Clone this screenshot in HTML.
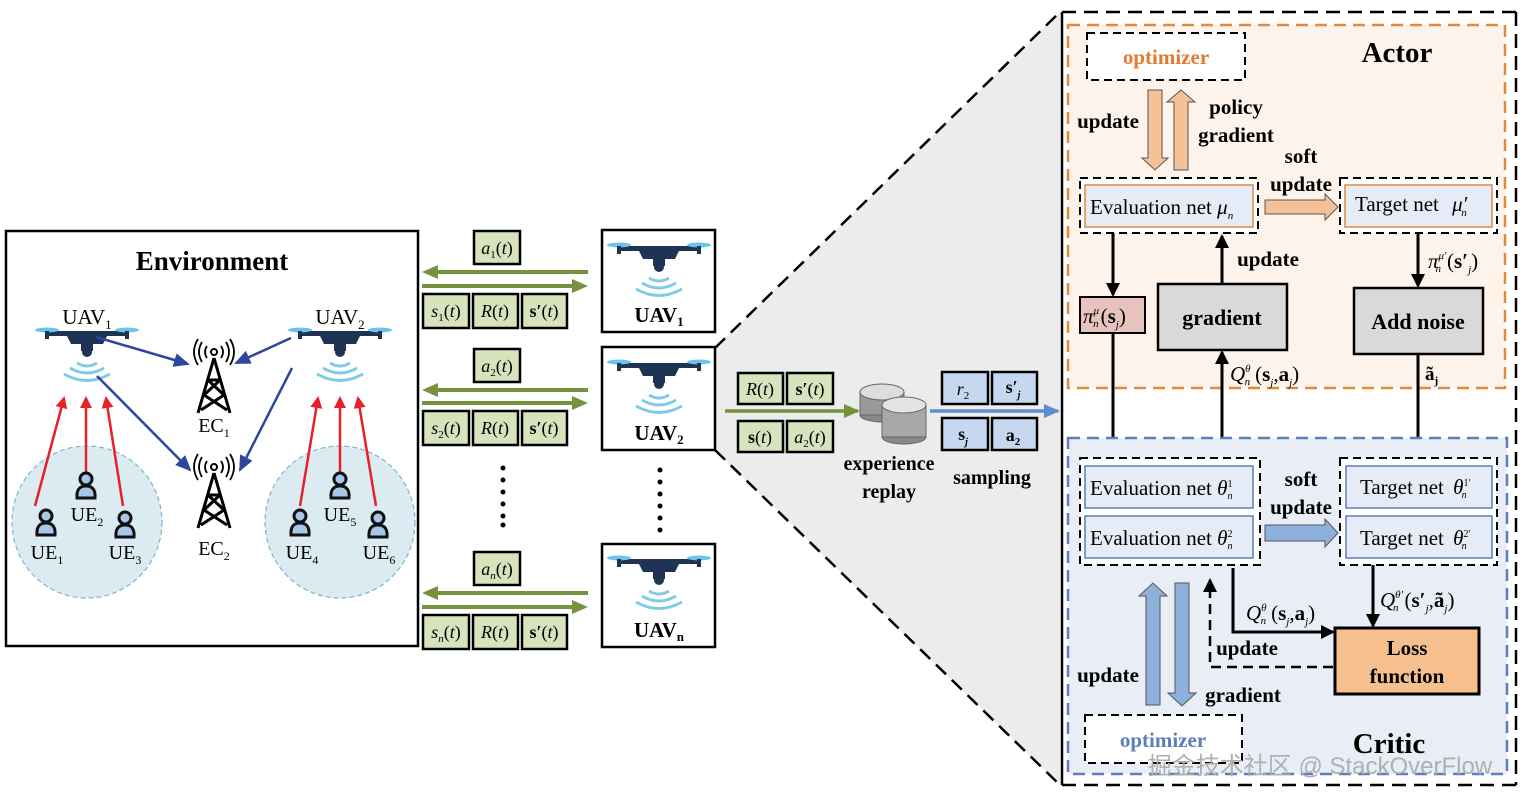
<!DOCTYPE html>
<html><head><meta charset="utf-8"><style>
html,body{margin:0;padding:0;background:#fff;}
svg{display:block;}
text{font-family:"Liberation Serif","Noto Serif CJK SC",serif;}
.b{font-weight:bold;}
.i{font-style:italic;}
</style></head><body>
<svg width="1524" height="801" viewBox="0 0 1524 801" xmlns="http://www.w3.org/2000/svg">
<defs>
<marker id="ahb" markerWidth="14" markerHeight="14" refX="12" refY="7" orient="auto" markerUnits="userSpaceOnUse"><path d="M0,0 L14,7 L0,14 z" fill="#000"/></marker>
<marker id="ahr" markerWidth="12" markerHeight="12" refX="10" refY="6" orient="auto" markerUnits="userSpaceOnUse"><path d="M0,0 L12,6 L0,12 z" fill="#e8202a"/></marker>
<marker id="ahn" markerWidth="16" markerHeight="14" refX="14" refY="7" orient="auto" markerUnits="userSpaceOnUse"><path d="M0,0 L16,7 L0,14 z" fill="#2e46a0"/></marker>
<marker id="ahg" markerWidth="16" markerHeight="14" refX="14" refY="7" orient="auto" markerUnits="userSpaceOnUse"><path d="M0,0 L16,7 L0,14 z" fill="#76923c"/></marker>
<marker id="ahbl" markerWidth="16" markerHeight="14" refX="14" refY="7" orient="auto" markerUnits="userSpaceOnUse"><path d="M0,0 L16,7 L0,14 z" fill="#5b8fd0"/></marker>
<g id="drone">
<rect x="-38" y="-4" width="76" height="5" fill="#1f3354"/>
<ellipse cx="-40" cy="-5" rx="12" ry="2.5" fill="#6cc4e8"/>
<ellipse cx="40" cy="-5" rx="12" ry="2.5" fill="#6cc4e8"/>
<rect x="-42" y="-4" width="4" height="8" fill="#1f3354"/>
<rect x="38" y="-4" width="4" height="8" fill="#1f3354"/>
<path d="M-22,-3 L22,-3 L16,9 L-16,9 z" fill="#1f3354"/>
<rect x="-6" y="8" width="12" height="8" fill="#1f3354"/>
<circle cx="0" cy="17" r="5" fill="#1f3354"/>
<path d="M-10,28 Q0,34 10,28 M-17,33 Q0,43 17,33 M-23,39 Q0,52 23,39" fill="none" stroke="#7fcbe6" stroke-width="3"/>
</g>
<g id="ue">
<circle cx="0" cy="-9" r="6" fill="#a8c6e8" stroke="#111" stroke-width="3"/>
<path d="M-9,10 Q-10,-2 0,-2 Q10,-2 9,10 z" fill="#a8c6e8" stroke="#111" stroke-width="3"/>
</g>
<g id="tower" fill="none" stroke="#000" stroke-width="3">
<path d="M0,-22 L-16,33 M0,-22 L16,33 M-6,0 L6,0 M-6,0 L10,15 M6,0 L-10,15 M-10,15 L13,30 M10,15 L-13,30"/>
<circle cx="0" cy="-28" r="3" stroke-width="2"/>
<path d="M-7,-34 Q-11,-28 -7,-22 M7,-34 Q11,-28 7,-22 M-12,-38 Q-18,-28 -12,-18 M12,-38 Q18,-28 12,-18 M-16,-41 Q-24,-28 -16,-15 M16,-41 Q24,-28 16,-15" stroke-width="1.8"/>
</g>
</defs>

<polygon points="715,348 1060,12 1060,785 715,450" fill="#ececec"/>
<line x1="715" y1="348" x2="1060" y2="12" stroke="#000" stroke-width="2.5" stroke-dasharray="14,8"/>
<line x1="715" y1="450" x2="1060" y2="785" stroke="#000" stroke-width="2.5" stroke-dasharray="14,8"/>

<rect x="1062" y="12" width="454" height="773" fill="#fff"/>
<line x1="1062" y1="12" x2="1062" y2="785" stroke="#000" stroke-width="2.5"/>
<line x1="1062" y1="12" x2="1516" y2="12" stroke="#000" stroke-width="2.5" stroke-dasharray="14,8"/>
<line x1="1516" y1="12" x2="1516" y2="785" stroke="#000" stroke-width="2.5" stroke-dasharray="14,8"/>
<line x1="1062" y1="785" x2="1516" y2="785" stroke="#000" stroke-width="2.5" stroke-dasharray="14,8"/>

<!-- Actor -->
<rect x="1068" y="25" width="437" height="363" fill="#fdf3ea" stroke="#e08a3c" stroke-width="2.5" stroke-dasharray="12,7"/>
<rect x="1087" y="33" width="158" height="47" fill="#fff" stroke="#000" stroke-width="2" stroke-dasharray="8,5"/>
<text x="1166" y="64" text-anchor="middle" font-size="21" class="b" fill="#e07b30">optimizer</text>
<text x="1397" y="62" text-anchor="middle" font-size="29" class="b">Actor</text>
<path d="M1148,90 L1162,90 L1162,158 L1168,158 L1155,170 L1142,158 L1148,158 z" fill="#f6c196" stroke="#555" stroke-width="1"/>
<path d="M1174,170 L1188,170 L1188,102 L1195,102 L1181,90 L1167,102 L1174,102 z" fill="#f6c196" stroke="#555" stroke-width="1"/>
<text x="1108" y="128" text-anchor="middle" font-size="21" class="b">update</text>
<text x="1236" y="114" text-anchor="middle" font-size="21" class="b">policy</text>
<text x="1236" y="142" text-anchor="middle" font-size="21" class="b">gradient</text>
<text x="1301" y="163" text-anchor="middle" font-size="21" class="b">soft</text>
<text x="1301" y="191" text-anchor="middle" font-size="21" class="b">update</text>
<rect x="1080" y="178" width="178" height="55" fill="#fff" stroke="#000" stroke-width="2" stroke-dasharray="8,5"/>
<rect x="1085" y="185" width="168" height="42" fill="#e5ecf7" stroke="#e08a3c" stroke-width="1.5"/>
<text x="1090" y="214" font-size="21">Evaluation net <tspan class="i">μ</tspan><tspan class="i" font-size="11" dy="5">n</tspan></text>
<path d="M1265,200 L1325,200 L1325,194 L1338,207 L1325,220 L1325,214 L1265,214 z" fill="#f6c196" stroke="#555" stroke-width="1"/>
<rect x="1340" y="178" width="157" height="55" fill="#fff" stroke="#000" stroke-width="2" stroke-dasharray="8,5"/>
<rect x="1345" y="185" width="147" height="42" fill="#e5ecf7" stroke="#e08a3c" stroke-width="1.5"/>
<text x="1355" y="211" font-size="21">Target net <tspan class="i" dx="8">μ′</tspan><tspan class="i" font-size="11" dy="5" dx="-6">n</tspan></text>
<line x1="1113" y1="233" x2="1113" y2="295" stroke="#000" stroke-width="3" marker-end="url(#ahb)"/>
<rect x="1080" y="297" width="65" height="36" fill="#e8c3bd" stroke="#000" stroke-width="2"/>
<text x="1083" y="323" font-size="21"><tspan class="i">π</tspan><tspan class="i" font-size="11" dy="-9">μ</tspan><tspan class="i" font-size="11" dy="13" dx="-6">n</tspan><tspan dy="-4" dx="2">(</tspan><tspan class="b">s</tspan><tspan class="i" font-size="11" dy="5">j</tspan><tspan dy="-5">)</tspan></text>
<rect x="1158" y="284" width="129" height="66" fill="#d9d9d9" stroke="#000" stroke-width="2.5"/>
<text x="1222" y="325" text-anchor="middle" font-size="22" class="b">gradient</text>
<line x1="1222" y1="284" x2="1222" y2="236" stroke="#000" stroke-width="3" marker-end="url(#ahb)"/>
<text x="1268" y="266" text-anchor="middle" font-size="21" class="b">update</text>
<rect x="1354" y="288" width="129" height="66" fill="#d9d9d9" stroke="#000" stroke-width="2.5"/>
<text x="1418" y="329" text-anchor="middle" font-size="22" class="b">Add noise</text>
<line x1="1418" y1="233" x2="1418" y2="286" stroke="#000" stroke-width="3" marker-end="url(#ahb)"/>
<text x="1428" y="268" font-size="21"><tspan class="i">π</tspan><tspan class="i" font-size="11" dy="-9">μ′</tspan><tspan class="i" font-size="11" dy="13" dx="-11">n</tspan><tspan dy="-4" dx="6">(</tspan><tspan class="b">s′</tspan><tspan class="i" font-size="11" dy="5">j</tspan><tspan dy="-5">)</tspan></text>
<line x1="1113" y1="333" x2="1113" y2="456" stroke="#000" stroke-width="3" marker-end="url(#ahb)"/>
<line x1="1222" y1="458" x2="1222" y2="352" stroke="#000" stroke-width="3" marker-end="url(#ahb)"/>
<text x="1230" y="381" font-size="21"><tspan class="i">Q</tspan><tspan class="i" font-size="11" dy="-9">θ</tspan><tspan class="i" font-size="11" dy="13" dx="-6">n</tspan><tspan dy="-4" dx="5">(</tspan><tspan class="b">s</tspan><tspan class="i" font-size="11" dy="5">j</tspan><tspan dy="-5">,</tspan><tspan class="b">a</tspan><tspan class="i" font-size="11" dy="5">j</tspan><tspan dy="-5">)</tspan></text>
<line x1="1418" y1="354" x2="1418" y2="456" stroke="#000" stroke-width="3" marker-end="url(#ahb)"/>
<text x="1425" y="380" font-size="19" class="b">ã<tspan font-size="11" dy="4">j</tspan></text>

<!-- Critic -->
<rect x="1068" y="438" width="439" height="336" fill="#e8edf6" stroke="#5b7fb8" stroke-width="2.5" stroke-dasharray="12,7"/>
<rect x="1080" y="458" width="180" height="107" fill="#fff" stroke="#000" stroke-width="2" stroke-dasharray="8,5"/>
<rect x="1085" y="466" width="168" height="42" fill="#e5ecf7" stroke="#5b7fb8" stroke-width="1.5"/>
<rect x="1085" y="516" width="168" height="42" fill="#e5ecf7" stroke="#5b7fb8" stroke-width="1.5"/>
<text x="1090" y="495" font-size="21">Evaluation net <tspan class="i">θ</tspan><tspan font-size="10" dy="-8">1</tspan><tspan class="i" font-size="10" dy="12" dx="-5">n</tspan></text>
<text x="1090" y="545" font-size="21">Evaluation net <tspan class="i">θ</tspan><tspan font-size="10" dy="-8">2</tspan><tspan class="i" font-size="10" dy="12" dx="-5">n</tspan></text>
<text x="1301" y="486" text-anchor="middle" font-size="21" class="b">soft</text>
<text x="1301" y="514" text-anchor="middle" font-size="21" class="b">update</text>
<path d="M1265,525 L1325,525 L1325,519 L1338,533 L1325,547 L1325,541 L1265,541 z" fill="#8eb0dc" stroke="#555" stroke-width="1"/>
<rect x="1340" y="458" width="157" height="107" fill="#fff" stroke="#000" stroke-width="2" stroke-dasharray="8,5"/>
<rect x="1346" y="466" width="146" height="42" fill="#e5ecf7" stroke="#5b7fb8" stroke-width="1.5"/>
<rect x="1346" y="516" width="146" height="42" fill="#e5ecf7" stroke="#5b7fb8" stroke-width="1.5"/>
<text x="1360" y="494" font-size="21">Target net <tspan class="i" dx="4">θ</tspan><tspan font-size="10" dy="-8">1′</tspan><tspan class="i" font-size="10" dy="12" dx="-9">n</tspan></text>
<text x="1360" y="545" font-size="21">Target net <tspan class="i" dx="4">θ</tspan><tspan font-size="10" dy="-8">2′</tspan><tspan class="i" font-size="10" dy="12" dx="-9">n</tspan></text>
<rect x="1335" y="628" width="144" height="66" fill="#f6c08e" stroke="#000" stroke-width="3"/>
<text x="1407" y="655" text-anchor="middle" font-size="21" class="b">Loss</text>
<text x="1407" y="683" text-anchor="middle" font-size="21" class="b">function</text>
<line x1="1373" y1="565" x2="1373" y2="626" stroke="#000" stroke-width="3" marker-end="url(#ahb)"/>
<text x="1380" y="607" font-size="21"><tspan class="i">Q</tspan><tspan class="i" font-size="11" dy="-9">θ′</tspan><tspan class="i" font-size="11" dy="13" dx="-10">n</tspan><tspan dy="-4" dx="6">(</tspan><tspan class="b">s′</tspan><tspan class="i" font-size="11" dy="5">j</tspan><tspan dy="-5">,</tspan><tspan class="b">ã</tspan><tspan class="i" font-size="11" dy="5">j</tspan><tspan dy="-5">)</tspan></text>
<path d="M1233,568 L1233,632 L1333,632" fill="none" stroke="#000" stroke-width="3" marker-end="url(#ahb)"/>
<text x="1246" y="620" font-size="21"><tspan class="i">Q</tspan><tspan class="i" font-size="11" dy="-9">θ</tspan><tspan class="i" font-size="11" dy="13" dx="-6">n</tspan><tspan dy="-4" dx="5">(</tspan><tspan class="b">s</tspan><tspan class="i" font-size="11" dy="5">j</tspan><tspan dy="-5">,</tspan><tspan class="b">a</tspan><tspan class="i" font-size="11" dy="5">j</tspan><tspan dy="-5">)</tspan></text>
<path d="M1333,667 L1210,667 L1210,580" fill="none" stroke="#000" stroke-width="2.5" stroke-dasharray="10,6" marker-end="url(#ahb)"/>
<text x="1247" y="655" text-anchor="middle" font-size="21" class="b">update</text>
<path d="M1146,705 L1160,705 L1160,596 L1167,596 L1153,583 L1139,596 L1146,596 z" fill="#8eb0dc" stroke="#555" stroke-width="1"/>
<path d="M1175,583 L1189,583 L1189,693 L1196,693 L1182,706 L1168,693 L1175,693 z" fill="#8eb0dc" stroke="#555" stroke-width="1"/>
<text x="1108" y="682" text-anchor="middle" font-size="21" class="b">update</text>
<text x="1243" y="702" text-anchor="middle" font-size="21" class="b">gradient</text>
<rect x="1085" y="715" width="157" height="48" fill="#fff" stroke="#000" stroke-width="2" stroke-dasharray="8,5"/>
<text x="1163" y="747" text-anchor="middle" font-size="21" class="b" fill="#5b7fb8">optimizer</text>
<text x="1389" y="753" text-anchor="middle" font-size="29" class="b">Critic</text>
<text x="1320" y="774" text-anchor="middle" font-size="24" fill="#b0b0b0" style="font-family:'Liberation Sans','Noto Sans CJK SC',sans-serif">掘金技术社区 @ StackOverFlow</text>

<!-- Middle replay -->
<g stroke="#000" stroke-width="2.5" fill="#d7e3bd">
<rect x="738" y="373" width="45" height="31"/><rect x="787" y="373" width="46" height="31"/>
<rect x="738" y="421" width="45" height="31"/><rect x="787" y="421" width="46" height="31"/>
</g>
<text x="760" y="395" text-anchor="middle" font-size="18"><tspan class="i">R</tspan>(<tspan class="i">t</tspan>)</text>
<text x="810" y="395" text-anchor="middle" font-size="18"><tspan class="b">s′</tspan>(<tspan class="i">t</tspan>)</text>
<text x="760" y="443" text-anchor="middle" font-size="18"><tspan class="b">s</tspan>(<tspan class="i">t</tspan>)</text>
<text x="810" y="443" text-anchor="middle" font-size="18"><tspan class="i">a</tspan><tspan font-size="11" dy="4">2</tspan><tspan dy="-4">(</tspan><tspan class="i">t</tspan>)</text>
<line x1="725" y1="411" x2="858" y2="411" stroke="#76923c" stroke-width="3.5" marker-end="url(#ahg)"/>
<g stroke="#666" stroke-width="1">
<ellipse cx="882" cy="415" rx="22" ry="7" fill="#888"/><rect x="860" y="392" width="44" height="23" fill="#9a9a9a"/><ellipse cx="882" cy="392" rx="22" ry="8" fill="#ddd"/>
<ellipse cx="904" cy="437" rx="22" ry="7" fill="#888"/><rect x="882" y="405" width="44" height="32" fill="#a8a8a8"/><ellipse cx="904" cy="405" rx="22" ry="8" fill="#e4e4e4"/>
</g>
<text x="889" y="470" text-anchor="middle" font-size="20" class="b">experience</text>
<text x="889" y="498" text-anchor="middle" font-size="20" class="b">replay</text>
<g stroke="#000" stroke-width="2.5" fill="#c5d8f0">
<rect x="942" y="372" width="46" height="32"/><rect x="992" y="372" width="45" height="32"/>
<rect x="942" y="418" width="46" height="32"/><rect x="992" y="418" width="45" height="32"/>
</g>
<text x="963" y="395" text-anchor="middle" font-size="18"><tspan class="i">r</tspan><tspan font-size="11" dy="4">2</tspan></text>
<text x="1013" y="393" text-anchor="middle" font-size="18" class="b">s′<tspan class="i" font-size="10" dy="5">j</tspan></text>
<text x="963" y="440" text-anchor="middle" font-size="18" class="b">s<tspan class="i" font-size="10" dy="5">j</tspan></text>
<text x="1013" y="441" text-anchor="middle" font-size="18" class="b">a<tspan font-size="11" dy="4">2</tspan></text>
<line x1="930" y1="411" x2="1058" y2="411" stroke="#5b8fd0" stroke-width="3.5" marker-end="url(#ahbl)"/>
<text x="992" y="484" text-anchor="middle" font-size="20" class="b">sampling</text>

<!-- Environment -->
<rect x="6" y="231" width="412" height="415" fill="#fff" stroke="#000" stroke-width="2.5"/>
<text x="212" y="270" text-anchor="middle" font-size="27" class="b">Environment</text>
<ellipse cx="87" cy="522" rx="75" ry="76" fill="#dcebf2" stroke="#7fb5cf" stroke-width="1.2" stroke-dasharray="5,3"/>
<ellipse cx="340" cy="522" rx="75" ry="76" fill="#dcebf2" stroke="#7fb5cf" stroke-width="1.2" stroke-dasharray="5,3"/>
<use href="#drone" x="87" y="335"/>
<use href="#drone" x="340" y="335"/>
<text x="87" y="324" text-anchor="middle" font-size="21">UAV<tspan font-size="13" dy="5">1</tspan></text>
<text x="340" y="324" text-anchor="middle" font-size="21">UAV<tspan font-size="13" dy="5">2</tspan></text>
<use href="#tower" x="214" y="380"/>
<use href="#tower" x="214" y="495"/>
<text x="214" y="432" text-anchor="middle" font-size="20">EC<tspan font-size="12" dy="5">1</tspan></text>
<text x="214" y="555" text-anchor="middle" font-size="20">EC<tspan font-size="12" dy="5">2</tspan></text>
<g stroke="#2e46a0" stroke-width="2.5" marker-end="url(#ahn)">
<line x1="96" y1="337" x2="188" y2="364"/>
<line x1="97" y1="376" x2="190" y2="470"/>
<line x1="291" y1="338" x2="236" y2="363"/>
<line x1="292" y1="368" x2="240" y2="470"/>
</g>
<g stroke="#e8202a" stroke-width="2.5" marker-end="url(#ahr)">
<line x1="35" y1="506" x2="64" y2="398"/>
<line x1="86" y1="474" x2="86" y2="398"/>
<line x1="123" y1="506" x2="106" y2="398"/>
<line x1="300" y1="506" x2="318" y2="398"/>
<line x1="340" y1="474" x2="340" y2="398"/>
<line x1="376" y1="506" x2="358" y2="398"/>
</g>
<use href="#ue" x="46" y="525"/>
<use href="#ue" x="86" y="488"/>
<use href="#ue" x="125" y="527"/>
<use href="#ue" x="300" y="525"/>
<use href="#ue" x="340" y="488"/>
<use href="#ue" x="378" y="527"/>
<text x="47" y="559" text-anchor="middle" font-size="20">UE<tspan font-size="12" dy="5">1</tspan></text>
<text x="87" y="521" text-anchor="middle" font-size="20">UE<tspan font-size="12" dy="5">2</tspan></text>
<text x="125" y="559" text-anchor="middle" font-size="20">UE<tspan font-size="12" dy="5">3</tspan></text>
<text x="302" y="559" text-anchor="middle" font-size="20">UE<tspan font-size="12" dy="5">4</tspan></text>
<text x="340" y="521" text-anchor="middle" font-size="20">UE<tspan font-size="12" dy="5">5</tspan></text>
<text x="379" y="559" text-anchor="middle" font-size="20">UE<tspan font-size="12" dy="5">6</tspan></text>

<!-- UAV boxes -->
<g fill="#fff" stroke="#000" stroke-width="2.5">
<rect x="602" y="230" width="113" height="102"/>
<rect x="602" y="347" width="113" height="103"/>
<rect x="602" y="544" width="113" height="103"/>
</g>
<use href="#drone" x="659" y="250"/>
<use href="#drone" x="659" y="367"/>
<use href="#drone" x="659" y="563"/>
<text x="659" y="322" text-anchor="middle" font-size="21" class="b">UAV<tspan font-size="13" dy="4">1</tspan></text>
<text x="659" y="440" text-anchor="middle" font-size="21" class="b">UAV<tspan font-size="13" dy="4">2</tspan></text>
<text x="659" y="637" text-anchor="middle" font-size="21" class="b">UAV<tspan font-size="13" dy="4">n</tspan></text>

<g stroke="#000" stroke-width="2.5" fill="#d7e3bd">
<rect x="474" y="231" width="46" height="33"/>
<rect x="423" y="294" width="46" height="34"/><rect x="473" y="294" width="45" height="34"/><rect x="522" y="294" width="45" height="34"/>
<rect x="474" y="349" width="46" height="33"/>
<rect x="423" y="411" width="46" height="34"/><rect x="473" y="411" width="45" height="34"/><rect x="522" y="411" width="45" height="34"/>
<rect x="474" y="552" width="46" height="33"/>
<rect x="423" y="615" width="46" height="34"/><rect x="473" y="615" width="45" height="34"/><rect x="522" y="615" width="45" height="34"/>
</g>
<g stroke="#76923c" stroke-width="4">
<line x1="588" y1="272" x2="436" y2="272"/><line x1="422" y1="286" x2="574" y2="286"/>
<line x1="588" y1="390" x2="436" y2="390"/><line x1="422" y1="403" x2="574" y2="403"/>
<line x1="588" y1="593" x2="436" y2="593"/><line x1="422" y1="607" x2="574" y2="607"/>
</g>
<g fill="#76923c">
<path d="M422,272 L438,265 L438,279 z"/><path d="M588,286 L572,279 L572,293 z"/>
<path d="M422,390 L438,383 L438,397 z"/><path d="M588,403 L572,396 L572,410 z"/>
<path d="M422,593 L438,586 L438,600 z"/><path d="M588,607 L572,600 L572,614 z"/>
</g>
<g font-size="18" text-anchor="middle">
<text x="497" y="254"><tspan class="i">a</tspan><tspan font-size="11" dy="4">1</tspan><tspan dy="-4">(</tspan><tspan class="i">t</tspan>)</text>
<text x="497" y="372"><tspan class="i">a</tspan><tspan font-size="11" dy="4">2</tspan><tspan dy="-4">(</tspan><tspan class="i">t</tspan>)</text>
<text x="497" y="575"><tspan class="i">a</tspan><tspan class="i" font-size="11" dy="4">n</tspan><tspan dy="-4">(</tspan><tspan class="i">t</tspan>)</text>
<text x="446" y="317"><tspan class="i">s</tspan><tspan font-size="11" dy="4">1</tspan><tspan dy="-4">(</tspan><tspan class="i">t</tspan>)</text>
<text x="446" y="434"><tspan class="i">s</tspan><tspan font-size="11" dy="4">2</tspan><tspan dy="-4">(</tspan><tspan class="i">t</tspan>)</text>
<text x="446" y="638"><tspan class="i">s</tspan><tspan class="i" font-size="11" dy="4">n</tspan><tspan dy="-4">(</tspan><tspan class="i">t</tspan>)</text>
<text x="495" y="317"><tspan class="i">R</tspan>(<tspan class="i">t</tspan>)</text>
<text x="495" y="434"><tspan class="i">R</tspan>(<tspan class="i">t</tspan>)</text>
<text x="495" y="638"><tspan class="i">R</tspan>(<tspan class="i">t</tspan>)</text>
<text x="544" y="317"><tspan class="b">s′</tspan>(<tspan class="i">t</tspan>)</text>
<text x="544" y="434"><tspan class="b">s′</tspan>(<tspan class="i">t</tspan>)</text>
<text x="544" y="638"><tspan class="b">s′</tspan>(<tspan class="i">t</tspan>)</text>
</g>
<g fill="#000">
<circle cx="503" cy="468" r="2.5"/><circle cx="503" cy="480" r="2.5"/><circle cx="503" cy="492" r="2.5"/><circle cx="503" cy="504" r="2.5"/><circle cx="503" cy="516" r="2.5"/><circle cx="503" cy="525" r="2.5"/>
<circle cx="660" cy="470" r="2.5"/><circle cx="660" cy="482" r="2.5"/><circle cx="660" cy="494" r="2.5"/><circle cx="660" cy="506" r="2.5"/><circle cx="660" cy="518" r="2.5"/><circle cx="660" cy="530" r="2.5"/>
</g>
</svg>
</body></html>
